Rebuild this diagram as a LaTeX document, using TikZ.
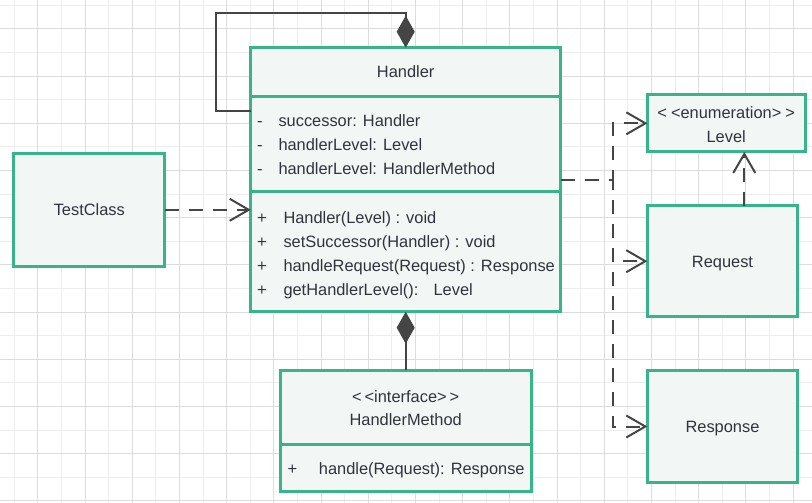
\documentclass[tikz,border=0pt]{standalone}
\usepackage{fontspec}
\setmainfont{Liberation Sans}
\usetikzlibrary{arrows.meta}
\definecolor{umlgreen}{HTML}{38B48B}
\definecolor{umlfill}{HTML}{F2F7F5}
\definecolor{umltext}{HTML}{30333A}
\definecolor{umlline}{HTML}{454545}
\definecolor{gridmin}{HTML}{EDEDED}
\definecolor{gridmaj}{HTML}{DCDCDC}
\begin{document}
\begin{tikzpicture}[x=1pt,y=-1pt,font=\fontsize{16.4pt}{24pt}\selectfont,text=umltext]
	\def \viscol{257}
	\def \attcol{278.3}
	\def \metcol{283.3}
	\tikzstyle{cls}=[draw=umlgreen,fill=umlfill,line width=3pt,inner sep=0pt,outer sep=0pt,align=center]
	\tikzstyle{cname}=[cls,text height=12pt,text depth=0pt]
	\tikzstyle{sep}=[draw=umlgreen,line width=3pt]
	\tikzstyle{mem}=[anchor=west,inner sep=0pt,text height=12pt,text depth=0pt]
	\tikzstyle{dep}=[draw=umlline,line width=2pt,dash pattern=on 14pt off 10pt,-{Straight Barb[length=19pt,width=22pt]}]
	\tikzstyle{comp}=[draw=umlline,line width=2pt,-{Diamond[length=32pt,width=18pt]}]
	% grid
	\useasboundingbox (0,0) rectangle (812,503);
	\fill[white] (0,0) rectangle (812,503);
	\foreach \g in {0,...,33} \draw[gridmin,line width=1pt] ({14.3+23.6*\g},0) -- ++(0,503);
	\foreach \g in {0,...,21} \draw[gridmin,line width=1pt] (0,{5.3+23.6*\g}) -- ++(812,0);
	\foreach \g in {0,...,16} \draw[gridmaj,line width=1pt] ({37.9+47.2*\g},0) -- ++(0,503);
	\foreach \g in {0,...,10} \draw[gridmaj,line width=1pt] (0,{28.9+47.2*\g}) -- ++(812,0);

	% classes
	\node[cls,minimum width=310pt,minimum height=264pt] 	(handler)	at (405.7,179.7)	{};
	\node[cname,minimum width=150.7pt,minimum height=113pt] 	(test)		at (89.3,209.8)		{TestClass};
	\node[cls,minimum width=157.7pt,minimum height=57.3pt] 	(level)		at (726.2,123.3)	{};
	\node[cname,minimum width=150.4pt,minimum height=111pt] 	(request)	at (722.5,261.2)	{Request};
	\node[cname,minimum width=150.4pt,minimum height=111.6pt] (response)	at (722.5,426.5)	{Response};
	\node[cls,minimum width=250.7pt,minimum height=121.4pt] (hm)		at (405.7,431)		{};

	% compartments
	\coordinate (hsepa) at (0,96.7);
	\coordinate (hsepb) at (0,191.7);
	\coordinate (hmsep) at (0,444);
	\draw[sep] (handler.west |- hsepa) -- (handler.east |- hsepa);
	\draw[sep] (handler.west |- hsepb) -- (handler.east |- hsepb);
	\draw[sep] (hm.west |- hmsep) -- (hm.east |- hmsep);

	% Level
	\node[align=center] 	(ltitle)	at (726.2,125)		{<\hspace{4pt}<enumeration>\hspace{4pt}>\\Level};

	% Handler
	\node[align=center] 	(htitle)	at (405.7,72)		{Handler};
	\node[mem] 	(v1)	at (\viscol,120.7)	{-};
	\node[mem] 	(a1)	at (\attcol,120.7)	{successor: Handler};
	\node[mem] 	(v2)	at (\viscol,144.5)	{-};
	\node[mem] 	(a2)	at (\attcol,144.5)	{handlerLevel: Level};
	\node[mem] 	(v3)	at (\viscol,168.3)	{-};
	\node[mem] 	(a3)	at (\attcol,168.3)	{handlerLevel: HandlerMethod};
	\node[mem] 	(p1)	at (\viscol,217.3)	{+};
	\node[mem] 	(m1)	at (\metcol,217.3)	{Handler(Level) : void};
	\node[mem] 	(p2)	at (\viscol,241.2)	{+};
	\node[mem] 	(m2)	at (\metcol,241.2)	{setSuccessor(Handler) : void};
	\node[mem] 	(p3)	at (\viscol,265.1)	{+};
	\node[mem] 	(m3)	at (\metcol,265.1)	{handleRequest(Request) : Response};
	\node[mem] 	(p4)	at (\viscol,289)	{+};
	\node[mem] 	(m4)	at (\metcol,289)	{getHandlerLevel():~~ Level};

	% HandlerMethod
	\node[align=center] 	(hmtitle)	at (405.7,408.2)	{<\hspace{3pt}<interface>\hspace{3pt}>\\[-1.3pt]HandlerMethod};
	\node[mem] 	(hp1)	at (287.5,468.3)	{+};
	\node[mem] 	(hm1)	at (318.7,468.3)	{handle(Request): Response};

	% connectors
	\coordinate (loop) at (216.3,12.7);
	\coordinate (bend) at (612.5,179.7);
	\draw[comp] ([yshift=69pt]handler.west) -| (loop) -| (handler.north);
	\draw[comp] (hm.north) -- (hm.north |- handler.south);
	\draw[dep] (test.east) -- (test.east -| handler.west);
	\draw[dep] (handler.east) -- (bend) |- (level.west);
	\draw[dep] (handler.east) -- (bend) |- (request.west);
	\draw[dep] (handler.east) -- (bend) |- (response.west);
	\draw[dep] ([xshift=21.8pt]request.north) -- ([xshift=21.8pt]request.north |- level.south);
\end{tikzpicture}
\end{document}
